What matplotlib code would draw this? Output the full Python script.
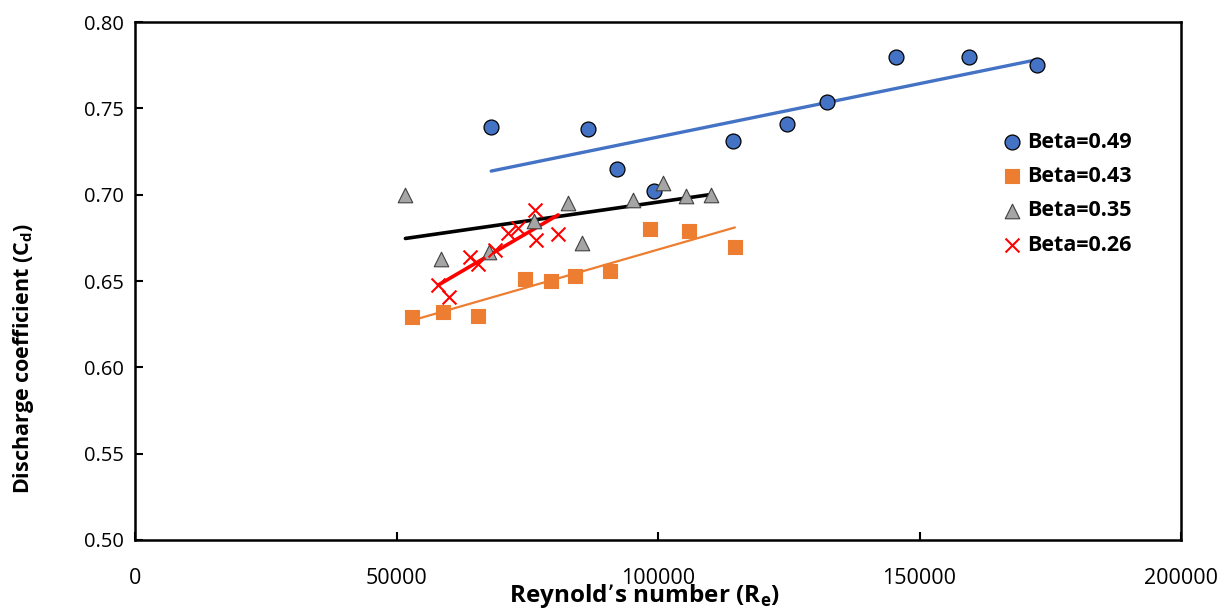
import matplotlib.pyplot as plt
import numpy as np

# Reynold's number / discharge coefficient
re_049 = [68100, 86600, 92200, 99200, 114300, 124600, 132400, 145600, 159500, 172500]
cd_049 = [0.739, 0.738, 0.715, 0.702, 0.731, 0.741, 0.754, 0.780, 0.780, 0.775]

re_043 = [52900, 58800, 65600, 74600, 79600, 84100, 90800, 98500, 105900, 114700]
cd_043 = [0.629, 0.632, 0.630, 0.651, 0.650, 0.653, 0.656, 0.680, 0.679, 0.670]

re_035 = [51700, 58600, 67700, 76200, 82800, 85500, 95200, 100900, 105300, 110100]
cd_035 = [0.700, 0.663, 0.667, 0.685, 0.695, 0.672, 0.697, 0.707, 0.699, 0.700]

re_026 = [58000, 60100, 64100, 65600, 68900, 71400, 73300, 76500, 76700, 80900]
cd_026 = [0.648, 0.641, 0.664, 0.660, 0.668, 0.678, 0.681, 0.691, 0.674, 0.677]

labels = ["Beta=0.49", "Beta=0.43", "Beta=0.35", "Beta=0.26"]

fig = plt.figure(figsize=(12.32, 6.15), dpi=100)
ax = fig.add_axes([0.1096, 0.122, 0.849, 0.842])


def trend(x, y, color, lw):
    k, b = np.polyfit(x, y, 1)
    xs = np.array([min(x), max(x)])
    ax.plot(xs, k * xs + b, color=color, lw=lw, solid_capstyle='round', zorder=2)


trend(re_049, cd_049, '#4472C4', 2.4)
trend(re_043, cd_043, '#ED7D31', 1.6)
trend(re_035, cd_035, 'black', 2.6)
trend(re_026, cd_026, '#FF0000', 2.6)

ax.scatter(re_049, cd_049, s=115, marker='o', color='#4472C4', edgecolor='black', lw=0.9, label=labels[0], zorder=3)
ax.scatter(re_043, cd_043, s=100, marker='s', color='#ED7D31', edgecolor='#ED7D31', lw=0.8, label=labels[1], zorder=3)
ax.scatter(re_035, cd_035, s=110, marker='^', color='#A5A5A5', edgecolor='#404040', lw=0.8, label=labels[2], zorder=3)
ax.scatter(re_026, cd_026, s=100, marker='x', color='#FF0000', lw=1.5, label=labels[3], zorder=3)

ax.set_xlim(0, 200000)
ax.set_ylim(0.5, 0.8)
ax.set_xticks([0, 50000, 100000, 150000, 200000])
ax.set_yticks(np.arange(0.5, 0.801, 0.05))
ax.set_yticklabels(['%.2f' % v for v in np.arange(0.5, 0.801, 0.05)], fontsize=14.5, family='Open Sans')
ax.set_xticklabels(['0', '50000', '100000', '150000', '200000'], fontsize=15.5, family='Open Sans')
ax.tick_params(direction='in', length=6, width=1.5, pad=8)
ax.tick_params(axis='x', pad=20)
for sp in ax.spines.values():
    sp.set_linewidth(1.8)

ax.set_xlabel("Reynold\u2019s number (R$_\\mathregular{e}$)", fontsize=17.5, fontweight='bold',
              family='Open Sans')
ax.xaxis.set_label_coords(0.487, -0.082)
ax.set_ylabel("Discharge coefficient (C$_\\mathregular{d}$)", fontsize=15.5, fontweight='bold',
              family='Open Sans')
ax.yaxis.set_label_coords(-0.095, 0.35)

ax.legend(loc='upper left', bbox_to_anchor=(0.818, 0.805), frameon=False, handletextpad=0.1,
          labelspacing=0.62, prop={'family': 'Open Sans', 'weight': 'bold', 'size': 15.5},
          borderaxespad=0, handlelength=1.2)

fig.savefig('out.png', dpi=100)
